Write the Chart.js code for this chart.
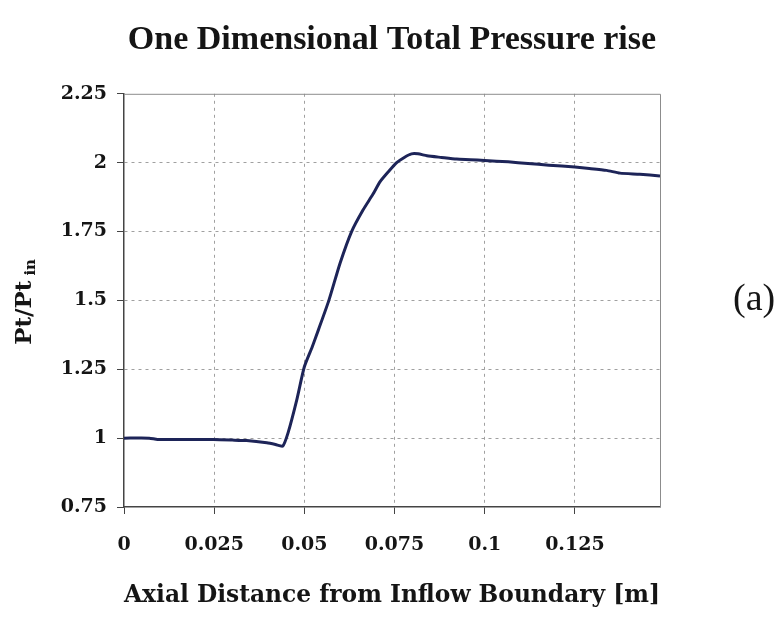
<!DOCTYPE html>
<html>
<head>
<meta charset="utf-8">
<script src="https://cdn.jsdelivr.net/npm/chart.js@4/dist/chart.umd.min.js"></script>
<style>
  body { margin: 0; background: #fff; }
  #wrap { width: 777px; height: 636px; position: relative; }
</style>
</head>
<body>
<div id="wrap"><canvas id="chart"></canvas></div>
<script>
// axial distance [m]
const axialDistance = [0, 0.007, 0.0093, 0.0165, 0.0248, 0.030, 0.034, 0.0396, 0.042, 0.044,
  0.0455, 0.0479, 0.050, 0.0522, 0.0539, 0.0568, 0.0599, 0.0631, 0.0663, 0.0690,
  0.0710, 0.0735, 0.0756, 0.0777, 0.0797, 0.0815, 0.0840, 0.0880, 0.0922, 0.0960,
  0.1000, 0.1065, 0.1120, 0.1178, 0.1250, 0.1290, 0.1338, 0.1375, 0.1430, 0.1486];

// Pt/Pt_in
const pressureRatio = [1.0, 1.0, 0.995, 0.995, 0.995, 0.993, 0.991, 0.983, 0.977, 0.971,
  1.02, 1.139, 1.259, 1.332, 1.393, 1.5, 1.635, 1.75, 1.829, 1.885,
  1.931, 1.97, 2.0, 2.019, 2.032, 2.032, 2.025, 2.019, 2.013, 2.011,
  2.008, 2.003, 1.997, 1.991, 1.984, 1.979, 1.972, 1.962, 1.958, 1.952];

const xTickLabels = ["0", "0.025", "0.05", "0.075", "0.1", "0.125"];
const yTickLabels = ["0.75", "1", "1.25", "1.5", "1.75", "2", "2.25"];

const chartTitle = "One Dimensional Total Pressure rise";
const xTitle = "Axial Distance from Inflow Boundary [m]";
const yTitleMain = "Pt/Pt";
const yTitleSub = "in";
const panelLabel = "(a)";

const points = axialDistance.map((x, i) => ({ x, y: pressureRatio[i] }));

const serif = "'DejaVu Serif', serif";
const times = "'Liberation Serif', serif";
const ink = "#151515";

const extras = {
  id: "extras",
  afterDraw(chart) {
    const { ctx, chartArea } = chart;
    ctx.save();
    // light frame on the top and right
    ctx.strokeStyle = "#8c8c8c";
    ctx.lineWidth = 1;
    ctx.beginPath();
    ctx.moveTo(chartArea.left, chartArea.top + 0.5);
    ctx.lineTo(chartArea.right + 0.5, chartArea.top + 0.5);
    ctx.lineTo(chartArea.right + 0.5, chartArea.bottom);
    ctx.stroke();

    // y title with subscript
    const cy = (chartArea.top + chartArea.bottom) / 2;
    ctx.translate(25, cy);
    ctx.rotate(-Math.PI / 2);
    ctx.fillStyle = ink;
    ctx.textBaseline = "middle";
    ctx.font = "bold 23px " + serif;
    const w1 = ctx.measureText(yTitleMain + " ").width;
    ctx.font = "bold 15px " + serif;
    const w2 = ctx.measureText(yTitleSub).width;
    const start = -(w1 + w2) / 2;
    ctx.font = "bold 23px " + serif;
    ctx.textAlign = "left";
    ctx.fillText(yTitleMain, start, 0);
    ctx.font = "bold 15px " + serif;
    ctx.fillText(yTitleSub, start + w1 - 3, 6);
    ctx.restore();

    ctx.save();
    ctx.fillStyle = ink;
    ctx.font = "38px " + times;
    ctx.textAlign = "left";
    ctx.textBaseline = "middle";
    ctx.fillText(panelLabel, 733, cy);
    ctx.restore();
  }
};

new Chart(document.getElementById("chart"), {
  type: "scatter",
  data: {
    datasets: [{
      data: points,
      showLine: true,
      borderColor: "#1d2458",
      borderWidth: 3,
      pointRadius: 0,
      tension: 0.2,
      fill: false,
    }],
  },
  options: {
    responsive: true,
    maintainAspectRatio: false,
    animation: false,
    layout: { padding: { left: 0, right: 117, top: 0, bottom: 0 } },
    plugins: {
      legend: { display: false },
      tooltip: { enabled: false },
      title: {
        display: true,
        fullSize: false,
        text: chartTitle,
        color: ink,
        font: { family: times, size: 34, weight: "bold" },
        padding: { top: 20, bottom: 33 },
      },
    },
    scales: {
      x: {
        type: "linear",
        min: 0,
        max: 0.1486,
        afterFit(scale) { scale.height = 129; },
        ticks: {
          stepSize: 0.025,
          includeBounds: false,
          color: ink,
          padding: 20,
          maxRotation: 0,
          font: { family: serif, size: 19, weight: "bold" },
          callback(value, index) { return xTickLabels[index]; },
        },
        grid: {
          color: (c) => (c.tick && c.tick.value === 0 ? "rgba(0,0,0,0)" : "#a0a0a0"),
          tickColor: "#444",
          tickLength: 7,
        },
        border: { color: "#444", width: 1.5, dash: [3, 4] },
        title: {
          display: true,
          text: xTitle,
          color: ink,
          font: { family: serif, size: 25, weight: "bold" },
          padding: { top: 0, bottom: 26 },
        },
      },
      y: {
        type: "linear",
        min: 0.75,
        max: 2.25,
        afterFit(scale) { scale.width = 124; },
        ticks: {
          stepSize: 0.25,
          color: ink,
          padding: 10,
          font: { family: serif, size: 19, weight: "bold" },
          callback(value, index) { return yTickLabels[index]; },
        },
        grid: {
          color: (c) => (c.tick && (c.tick.value === 0.75 || c.tick.value === 2.25) ? "rgba(0,0,0,0)" : "#a0a0a0"),
          tickColor: "#444",
          tickLength: 7,
        },
        border: { color: "#444", width: 1.5, dash: [3, 4] },
      },
    },
  },
  plugins: [extras],
});
</script>
</body>
</html>
